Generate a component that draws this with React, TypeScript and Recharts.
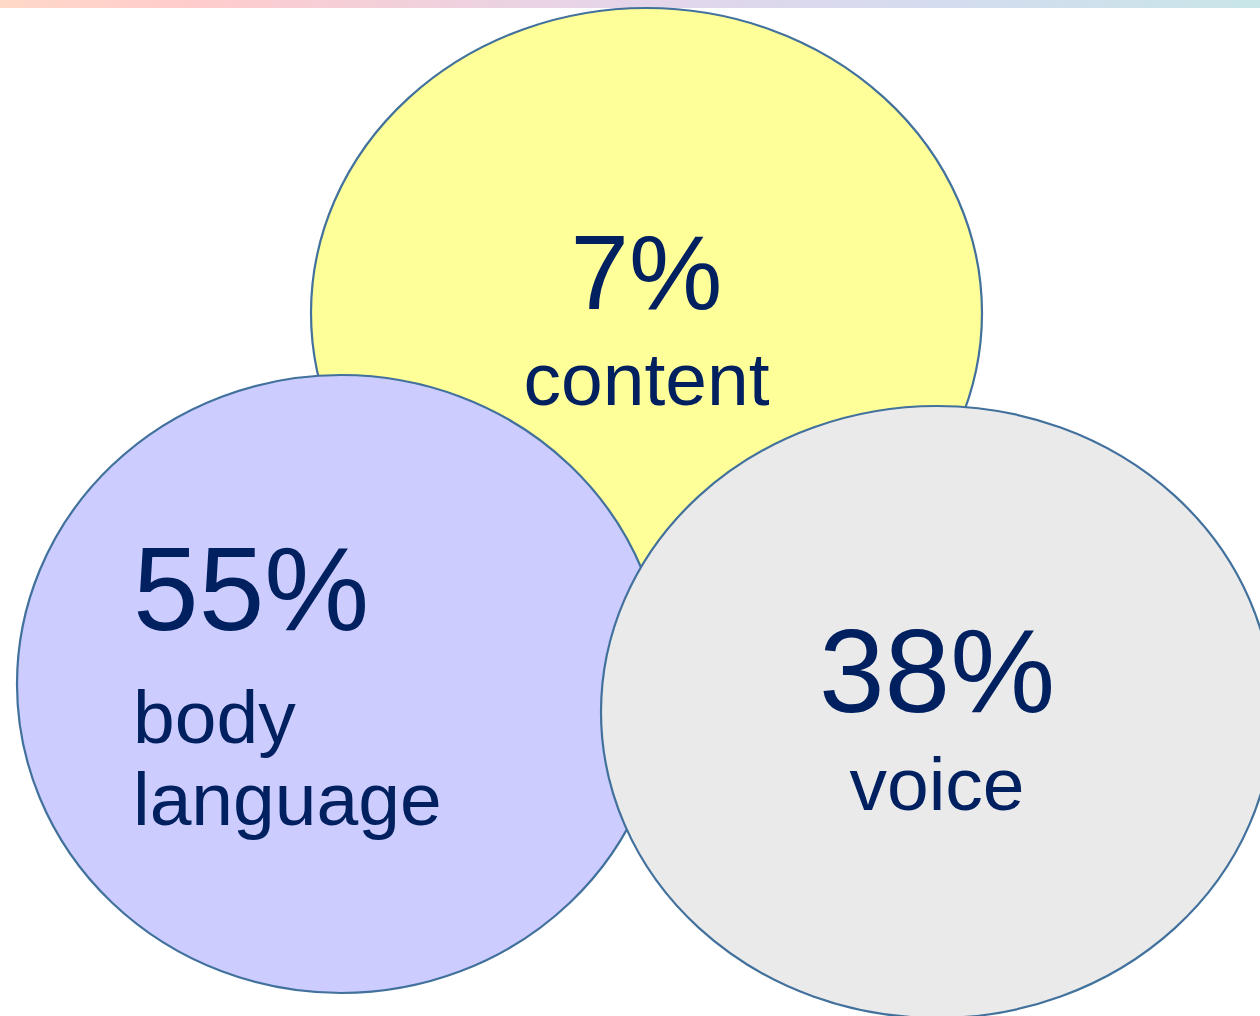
import React from "react";
import {
  ScatterChart,
  Scatter,
  XAxis,
  YAxis,
  ReferenceArea,
} from "recharts";

// what the diagram says
const categories = ["content", "body language", "voice"];
const shares = [7, 55, 38];
const labelLines = [["content"], ["body", "language"], ["voice"]];

const W = 1260;
const H = 1016;

// where each bubble sits (in chart units, axes run 0..W and 0..H)
const layout = [
  { cx: 646.5, cy: 313, rx: 335.5, ry: 305, fill: "#FFFF99" },
  { cx: 341, cy: 684, rx: 324, ry: 309, fill: "#CCCCFF" },
  { cx: 937, cy: 712, rx: 336, ry: 306, fill: "#EAEAEA" },
];

// text placement relative to the bubble centre, in px
const textLayout = [
  { anchor: "middle", dx: 0, valueDy: -4, valueSize: 105, labelDy: [92], labelSize: 75 },
  { anchor: "start", dx: -208, valueDy: -54, valueSize: 118, labelDy: [59, 141], labelSize: 75 },
  { anchor: "middle", dx: 0, valueDy: 0, valueSize: 118, labelDy: [98], labelSize: 75 },
];

const data = categories.map((name, i) => ({
  x: layout[i].cx,
  y: layout[i].cy,
  name,
  share: shares[i],
  idx: i,
}));

const TEXT = "#002060";
const OUTLINE = "#41719C";

const Bubble = (props: any) => {
  const { cx, cy, payload } = props;
  const i = payload.idx;
  const l = layout[i];
  const t = textLayout[i];
  const tx = cx + t.dx;
  return (
    <g>
      <ellipse
        cx={cx}
        cy={cy}
        rx={l.rx}
        ry={l.ry}
        fill={l.fill}
        stroke={OUTLINE}
        strokeWidth={2.2}
      />
      <text
        x={tx}
        y={cy + t.valueDy}
        textAnchor={t.anchor}
        fontSize={t.valueSize}
        fill={TEXT}
      >
        {payload.share}%
      </text>
      {labelLines[i].map((line, k) => (
        <text
          key={k}
          x={tx}
          y={cy + t.labelDy[k]}
          textAnchor={t.anchor}
          fontSize={t.labelSize}
          fill={TEXT}
        >
          {line}
        </text>
      ))}
    </g>
  );
};

export default function App() {
  return (
    <div
      style={{
        position: "absolute",
        left: 0,
        top: 0,
        width: W,
        height: H,
        background: "#ffffff",
        fontFamily: '"Liberation Sans", Arial, sans-serif',
        overflow: "hidden",
      }}
    >
      <ScatterChart
        width={W}
        height={H}
        margin={{ top: 0, right: 0, bottom: 0, left: 0 }}
      >
        <defs>
          <linearGradient id="topBar" x1="0" y1="0" x2="1" y2="0">
            <stop offset="0%" stopColor="#FFD9C8" />
            <stop offset="15%" stopColor="#FFCCCC" />
            <stop offset="50%" stopColor="#E4D5EA" />
            <stop offset="75%" stopColor="#D4DCEF" />
            <stop offset="100%" stopColor="#C8E6E8" />
          </linearGradient>
        </defs>
        <XAxis type="number" dataKey="x" domain={[0, W]} hide />
        <YAxis type="number" dataKey="y" domain={[0, H]} reversed hide />
        <Scatter data={data} shape={Bubble} isAnimationActive={false} />
        <ReferenceArea
          x1={0}
          x2={W}
          y1={0}
          y2={8}
          fill="url(#topBar)"
          fillOpacity={1}
          stroke="none"
        />
      </ScatterChart>
    </div>
  );
}
